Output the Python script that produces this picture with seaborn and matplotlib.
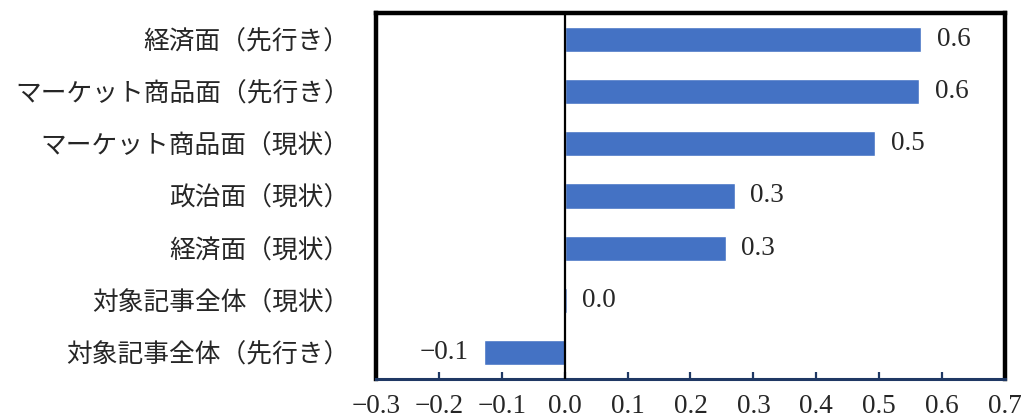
import matplotlib
matplotlib.use("Agg")
import matplotlib.pyplot as plt
import seaborn as sns
import pandas as pd

# Categories, top to bottom
categories = [
    "経済面（先行き）",
    "マーケット商品面（先行き）",
    "マーケット商品面（現状）",
    "政治面（現状）",
    "経済面（現状）",
    "対象記事全体（現状）",
    "対象記事全体（先行き）",
]
values = [0.567, 0.564, 0.494, 0.270, 0.256, 0.003, -0.129]
x_ticks = [-0.3, -0.2, -0.1, 0.0, 0.1, 0.2, 0.3, 0.4, 0.5, 0.6, 0.7]

sns.set_theme(style="white")
plt.rcParams["font.family"] = ["Noto Sans CJK JP", "DejaVu Sans"]

df = pd.DataFrame({"category": categories, "value": values})

fig = plt.figure(figsize=(10.26, 4.19), dpi=100)
ax = fig.add_axes([0.3665, 0.0955, 0.613, 0.8735])

sns.barplot(data=df, x="value", y="category", orient="h", color="#4472C4",
            saturation=1, width=0.48, ax=ax)

ax.set_xlim(-0.3, 0.7)
ax.set_ylim(6.5, -0.5)
ax.set_xlabel("")
ax.set_ylabel("")

# Zero reference line
ax.axvline(0, color="black", lw=1.6, zorder=3)

# Frame: heavy black on three sides, navy axis line at the bottom
for side in ("left", "top", "right"):
    ax.spines[side].set_color("black")
    ax.spines[side].set_linewidth(3.2)
ax.spines["bottom"].set_color("#1F3864")
ax.spines["bottom"].set_linewidth(2.2)

serif = ["Liberation Serif", "DejaVu Serif"]
ax.set_xticks(x_ticks)
ax.set_xticklabels([f"{t:.1f}".replace("-", "−") for t in x_ticks],
                   family=serif, fontsize=19.5)
ax.tick_params(axis="x", direction="in", length=5, width=1.6, color="#1F3864",
               pad=11, bottom=True)
ax.tick_params(axis="y", length=0, pad=19, labelsize=18.5)

# Value labels next to each bar
for i, v in enumerate(values):
    txt = f"{v:.1f}".replace("-", "−")
    if v < 0:
        ax.annotate(txt, (v, i), xytext=(-11, 0), textcoords="offset points",
                    ha="right", va="center", family=serif, fontsize=19.5)
    else:
        ax.annotate(txt, (v, i), xytext=(11, 0), textcoords="offset points",
                    ha="left", va="center", family=serif, fontsize=19.5)

fig.savefig("out.png", dpi=100)
